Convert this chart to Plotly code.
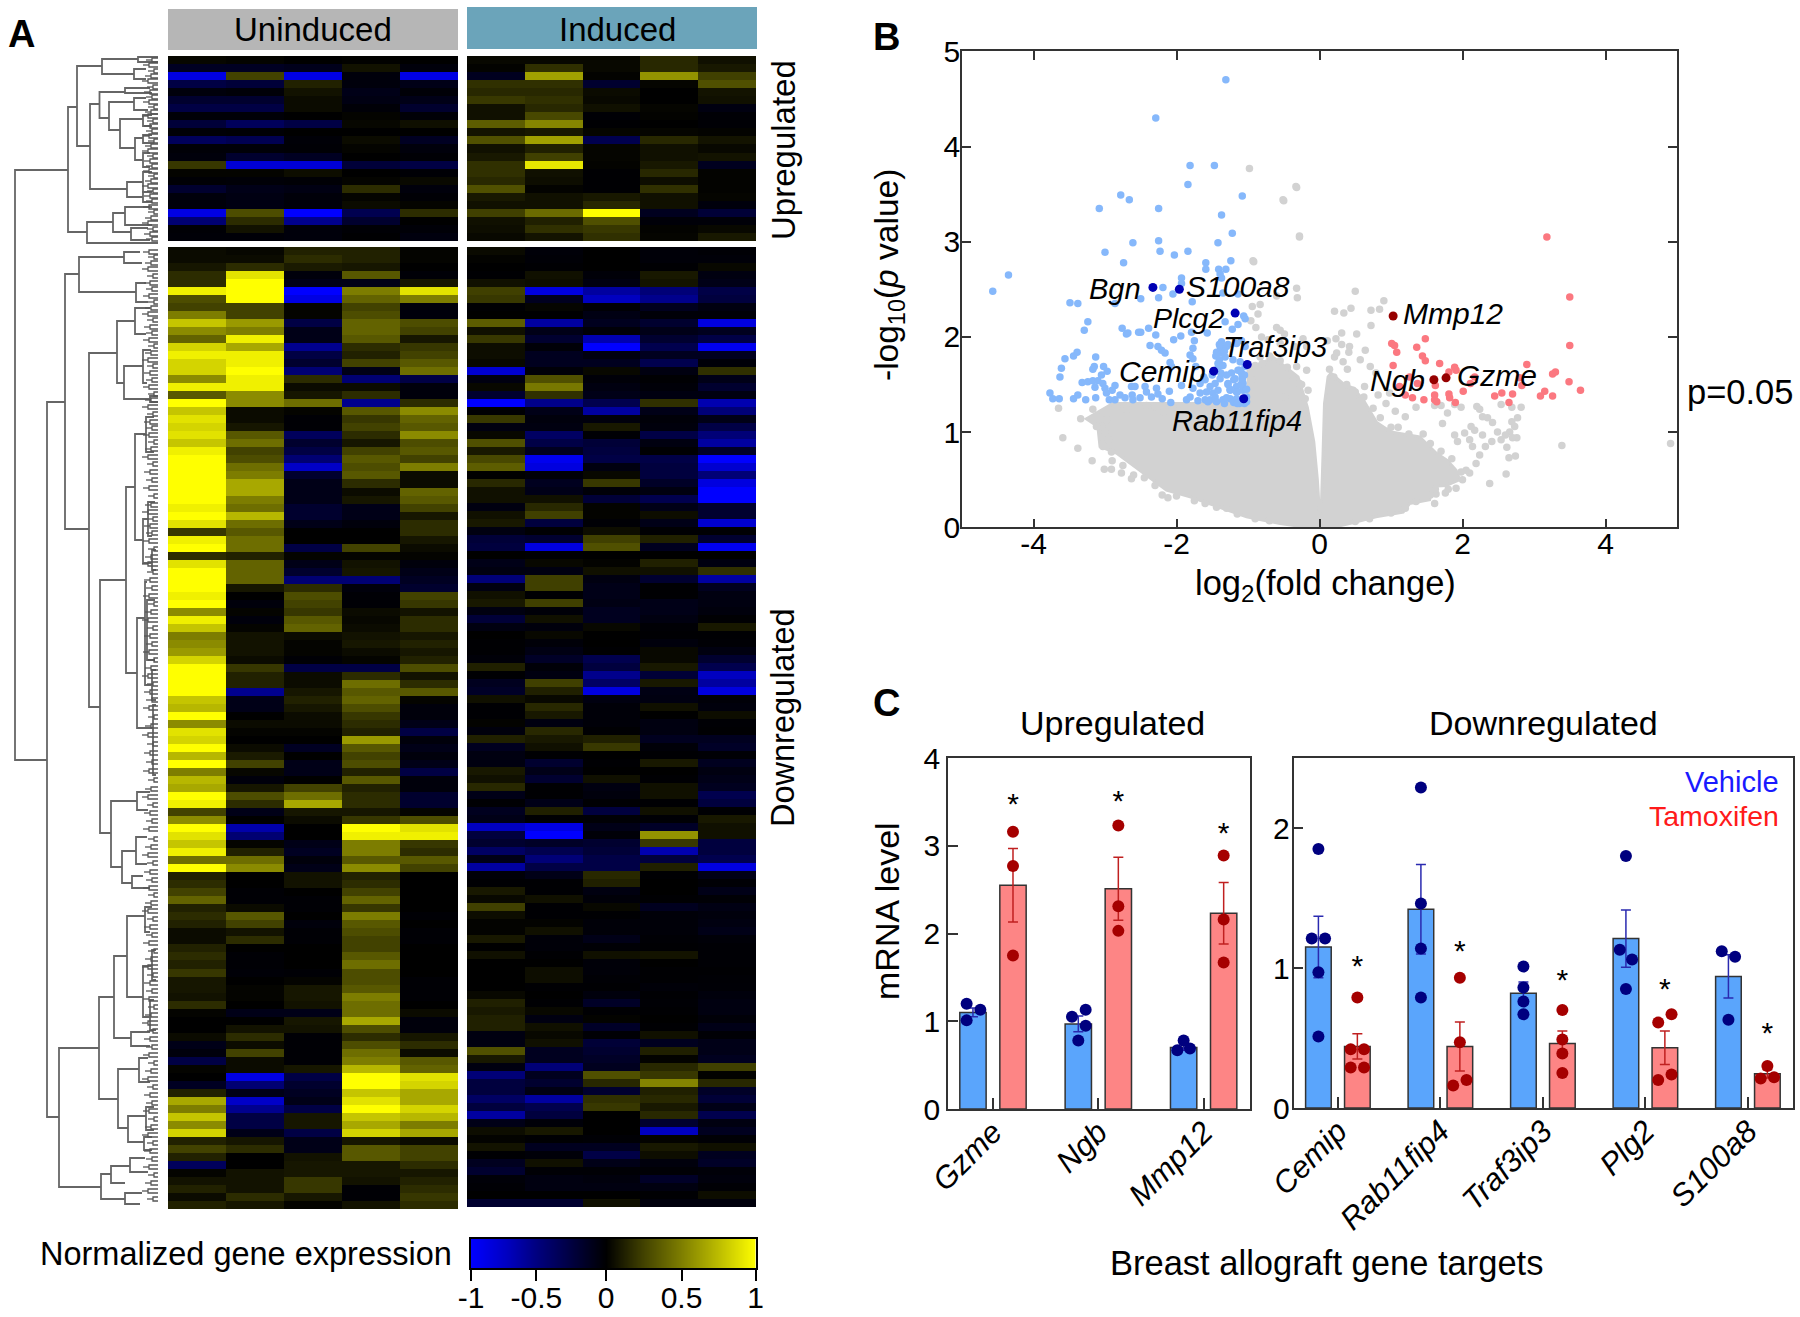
import plotly.graph_objects as go

W = 1800
H = 1317
FONT = "Liberation Sans"

# ---- Panel A: heatmaps (rows top to bottom, five samples each) ----
up_uninduced = [
    [.03,.02,0,.01,0],[-.15,-.15,-.12,.08,-.05],[-.9,.3,-.9,-.05,-.9],[-.3,-.25,.15,-.05,-.1],
    [-.05,-.03,.08,-.1,-.03],[-.2,-.2,.05,-.08,-.1],[-.3,-.3,.05,-.03,-.2],[-.03,-.03,0,.02,-.03],
    [-.25,-.4,-.3,.03,.07],[-.03,-.02,0,0,0],[-.4,-.35,-.03,.05,-.15],[-.03,-.03,-.02,.02,-.05],
    [-.05,-.2,-.15,0,-.02],[.25,-.85,-.85,-.25,-.3],[.02,.02,.06,0,-.02],[-.02,-.03,-.02,.02,.04],
    [-.2,-.1,-.08,.2,-.05],[-.05,-.08,-.04,.02,-.02],[-.05,-.08,-.04,.05,.02],[-.9,.35,-1,-.35,.2],
    [-.5,.2,-.6,-.2,0],[-.02,.08,-.05,-.02,-.03],[-.03,-.03,-.05,-.01,-.06],
]
up_induced = [
    [.05,.05,.05,.25,.1],[.02,.3,.05,.25,.15],[-.2,.8,.02,.75,.4],[.3,.3,-.3,.03,.5],
    [.25,.25,.07,0,.12],[.35,.3,.05,0,.1],[.1,.25,.1,.03,-.1],[.1,.45,-.03,.02,-.03],
    [.55,.7,-.02,0,-.03],[.12,.15,.03,.03,.02],[.5,.8,-.5,.25,.12],[.1,.2,.03,.1,.05],
    [.15,.4,.03,.1,.12],[.3,.95,.02,.15,-.2],[.3,.1,-.02,.25,.02],[.25,.08,-.02,.08,.02],
    [.5,.02,-.02,.3,.02],[.15,.1,.15,.1,.03],[.1,.1,.25,.1,-.08],[.4,.6,1,-.2,-.35],
    [.1,.2,.5,-.05,-.05],[.08,.3,.35,.02,.05],[.05,.12,.3,.03,.15],
]
down_uninduced = [
    [.05,.03,.15,.15,.02],[.05,.05,.2,.15,.02],[.1,.2,.12,.1,0],[.2,.9,-.05,.4,-.03],[.2,1,-.1,-.1,.1],
    [.95,1,-1,.55,.9],[.35,1,-.9,.45,.55],[.3,.3,.02,.3,-.05],[.55,.3,.02,.35,-.05],[.8,.65,-.3,.45,.35],
    [.6,.55,-.1,.45,.3],[.45,.95,-.1,.4,.1],[.85,.7,-.6,.2,.25],[.95,.95,-.3,.15,.3],[.85,.95,-.2,.3,.4],
    [.85,1,-.5,-.1,.5],[.6,.95,.2,-.5,-.3],[.95,.95,.05,.05,-.05],[.4,.6,.1,.2,-.05],[1,.6,.5,-.6,.2],
    [.8,.05,.02,.4,.6],[.9,.05,-.02,.25,.45],[.85,.1,-.02,.3,.4],[.9,.4,-.4,.2,.6],[.8,.5,-.2,.1,.35],
    [.95,.3,-.3,.3,.4],[1,.35,-.5,.4,.3],[1,.5,-.8,.35,.55],[1,.55,-.2,.4,.05],[1,.7,-.1,.2,.05],
    [1,.7,-.1,.05,.45],[1,.55,-.1,.1,.4],[.95,.5,-.2,-.1,.3],[1,.75,-.2,-.1,.1],[.9,.5,-.1,-.05,.2],
    [.25,.4,0,0,.2],[.95,.5,0,0,.1],[1,.5,-.3,.3,.05],[.2,.15,.02,.02,.02],[.9,.45,-.1,.08,-.05],
    [1,.45,-.2,.1,-.1],[1,.45,-.5,-.5,-.15],[1,.1,.2,-.05,-.2],[.95,0,.35,-.02,.3],[1,-.05,.3,-.02,.25],
    [.6,.02,.25,.05,.08],[.95,-.05,.4,.03,.2],[.8,.02,.45,.05,.2],[.55,.08,.05,.08,.1],[.6,.08,.02,.1,.15],
    [.65,.08,.02,.05,.1],[.85,.05,-.02,.02,.15],[1,.25,-.3,-.3,.35],[1,.15,.05,.2,.08],[1,.15,.05,.5,.2],
    [1,-.6,.1,.4,.4],[.8,-.1,.15,.45,.02],[.75,-.1,.1,.35,-.05],[1,0,.05,.25,-.05],[.6,.05,.05,.2,-.1],
    [.9,.02,.02,.15,-.3],[.85,0,0,.65,-.05],[1,.05,-.15,.4,-.1],[.75,.12,0,.3,-.05],[1,.3,-.1,.35,-.1],
    [.55,.03,-.1,.15,-.3],[.75,-.05,0,.4,-.05],[.7,.1,.3,.15,-.05],[1,.35,.5,.2,-.2],[.95,.2,.7,.2,-.2],
    [.3,-.1,.1,.1,.02],[.6,0,.05,.25,.35],[1,-.7,0,1,.9],[.9,-.5,0,.95,.95],[.8,.02,-.1,.55,.25],
    [.95,.15,-.15,.55,.2],[.5,.5,-.05,.4,.4],[1,.6,-.1,.6,.3],[.15,0,.08,.15,0],[.2,0,.08,.2,0],
    [.3,-.02,0,.3,0],[.45,-.02,-.02,.45,0],[.15,.05,-.02,.25,0],[.2,.4,0,.55,-.02],[.15,.3,-.05,.4,0],
    [.05,.08,-.02,.35,-.02],[.05,.2,-.02,.3,-.02],[.15,0,0,.3,0],[.2,-.02,0,.4,0],[.15,-.02,0,.5,0],
    [.25,-.03,-.02,.35,0],[.1,0,.02,.35,-.02],[.1,.02,.1,.4,-.02],[.08,.02,.1,.55,-.02],[.2,0,.08,.5,0],
    [.02,-.1,-.1,.5,.05],[0,0,.1,.7,-.05],[0,.08,.08,.35,-.05],[.05,.2,-.02,.2,.1],[-.1,.05,-.02,.35,.2],
    [-.05,.3,-.02,.5,.05],[-.3,.05,-.02,.55,.4],[.02,.05,.1,.75,.45],[0,-.9,-.3,1,.9],[-.15,-.5,-.2,1,.85],
    [.15,-.1,-.15,.8,.7],[.7,-.8,-.1,.9,.7],[.55,-.6,-.3,1,.85],[.8,-.3,.1,.8,.75],[.6,-.3,.1,.7,.55],
    [.85,-.1,-.3,.85,.7],[.15,.1,-.1,.1,.05],[.3,.2,-.1,.4,.3],[.15,0,.08,.4,.3],[-.4,0,.1,.1,.2],
    [.02,.08,.1,.1,.1],[.08,.08,.25,.08,.15],[.15,.08,.25,-.02,.2],[.05,.2,.1,-.02,.25],[.15,.1,.02,.08,.2],
]
down_induced = [
    [.06,-.05,0,-.05,-.03],[.02,-.04,0,-.05,-.05],[0,-.02,0,-.02,.05],[-.02,.1,-.05,.15,-.1],[.1,.08,-.1,.12,-.15],
    [.4,-.9,-.7,-.6,-.45],[.35,-.2,-.8,-.65,-.4],[-.02,.03,-.03,-.2,-.1],[0,0,-.12,-.05,-.05],[.55,-.7,-.2,-.3,-.9],
    [.1,-.15,-.05,-.15,-.2],[.35,-.3,-.75,-.3,-.45],[.08,-.05,-1,-.5,-.95],[.08,-.2,-.1,-.2,-.2],[.05,-.2,-.2,-.5,-.05],
    [-.85,-.05,.05,-.1,.3],[-.1,.5,-.05,-.02,-.15],[.05,.65,-.1,-.05,-.3],[-.3,.3,-.15,-.1,-.1],[-1,-.65,-.5,.3,-.75],
    [-.02,-.15,-.7,-.15,-.6],[.35,-.08,-.08,-.05,-.15],[-.1,-.1,.15,-.08,-.45],[.05,-.55,-.03,-.45,-.6],[.5,-.45,-.35,-.1,-.7],
    [.15,-.2,-.4,-.02,-.25],[.45,-.95,-.45,-.45,-1],[.55,-.9,-.1,-.4,-.85],[0,-.05,.05,-.4,-.6],[.25,-.2,.35,-.25,-.9],
    [.1,-.15,-.05,-.1,-1],[.1,.1,-.35,-.5,-1],[-.1,.25,.02,-.15,-.3],[.1,.4,.02,.08,-.3],[.15,-.4,-.03,-.15,-.85],
    [-.1,-.02,.08,-.02,-.02],[-.35,-.3,.4,.2,-.3],[-.4,-.9,.5,-.2,-.95],[0,-.02,0,0,0],[-.15,.05,.02,.2,-.1],
    [-.1,-.1,.1,.1,.3],[-.6,.4,-.1,-.3,-.7],[-.1,.4,-.15,-.02,-.2],[.1,-.02,-.15,-.02,-.1],[.15,.4,-.12,-.15,-.1],
    [-.1,-.05,-.2,-.15,-.08],[-.35,.1,-.2,-.1,-.02],[-.1,-.08,.05,-.03,.15],[0,.05,0,-.02,-.02],[-.02,-.05,0,-.08,-.03],
    [-.02,-.12,-.02,.05,-.1],[-.05,-.25,-.5,.05,-.3],[.2,-.05,-.4,.15,-.5],[-.02,-.1,-.65,-.35,-.8],[-.2,.4,-.55,.15,-.7],
    [-.25,.2,-.9,-.12,-.9],[.1,.05,-.1,-.1,-.05],[-.02,.25,-.05,.1,-.08],[-.02,.15,-.05,0,.08],[.02,-.1,-.05,-.1,-.03],
    [-.08,.25,-.02,-.1,-.02],[.2,.15,.2,-.2,-.2],[-.2,.1,.35,-.05,-.25],[-.1,-.02,0,-.02,-.03],[-.1,-.3,-.02,.15,-.2],
    [.15,-.15,0,0,-.1],[.1,-.3,.1,-.02,-.15],[.25,-.02,-.1,.1,-.2],[-.15,-.02,-.08,.1,-.5],[-.02,-.15,-.02,-.02,-.4],
    [-.2,.2,-.4,.1,-.02],[-.15,-.02,-.03,-.03,.15],[-.8,-.9,-.15,-.25,.1],[-.4,-1,-.05,.75,.1],[-.3,-.25,-.3,.35,-.4],
    [-.55,-.5,-.35,-.75,-.4],[-.15,-.6,-.45,-.4,-.5],[-.7,-.45,-.45,.2,-.9],[-.05,-.15,.25,-.02,-.15],[-.02,-.02,.2,0,-.03],
    [.15,-.02,-.1,0,-.15],[.05,.1,-.05,-.02,-.03],[.4,-.02,.05,-.2,-.12],[.08,-.02,-.02,-.05,-.08],[.02,.02,-.05,-.05,-.1],
    [.02,.1,-.05,-.05,-.15],[.15,-.05,-.15,-.03,-.05],[0,-.05,-.03,-.02,-.03],[.1,-.02,.1,.12,-.03],[0,0,-.05,0,-.03],
    [0,.08,-.05,-.02,-.02],[0,.08,-.03,-.02,-.03],[0,-.02,-.02,-.05,-.04],[.05,0,-.08,-.02,-.08],[.2,-.02,-.25,-.03,-.1],
    [.15,.05,-.02,-.02,-.1],[.2,-.1,.02,0,-.05],[.2,.1,-.25,-.02,-.15],[-.1,.05,-.03,.1,-.03],[-.1,.1,-.35,-.2,-.15],
    [.5,-.2,-.3,.2,-.15],[.15,-.2,-.25,.02,-.2],[-.1,-.6,-.2,.25,.4],[-.6,-.2,.5,.35,.02],[-.4,-.3,.25,.7,.25],
    [-.4,-.12,-.3,.2,-.25],[-.55,-.7,.3,.25,-.35],[-.4,-.5,.35,.15,-.15],[-.7,-.4,0,.25,-.5],[-.15,-.05,0,-.3,-.1],
    [.08,.15,0,-.8,-.2],[.02,-.02,-.03,.02,-.03],[.12,-.2,-.2,.15,.1],[-.02,-.05,-.45,.08,-.2],[-.2,.1,-.15,-.08,-.25],
    [-.3,-.03,-.03,-.03,-.05],[-.05,-.1,-.08,-.25,-.08],[-.03,-.1,-.1,-.1,-.03],[0,0,0,-.02,.08],[-.3,-.3,.1,-.08,-.08],
]
heat_scale = [[0, "#0000ff"], [.5, "#000000"], [1, "#ffff00"]]
# the panels themselves read darker in the mid range than the colour bar
uninduced_scale = [[0, "#0000ff"], [.25, "#000072"], [.5, "#000000"], [.75, "#6e6e00"], [1, "#ffff00"]]
induced_scale = [[0, "#0000ff"], [.15, "#0000a0"], [.25, "#00004e"], [.5, "#000000"], [.75, "#505000"], [.9, "#a0a000"], [1, "#ffff00"]]

cbar_x = [-1, -.75, -.54, -.3, -.05, .2, .48, .75, 1]
cbar_z = [-1, -.75, -.5, -.25, 0, .25, .5, .75, 1]
cbar_ticks = [-1, -.54, -.05, .48, 1]
cbar_labels = ["-1", "-0.5", "0", "0.5", "1"]

# dendrogram links: spine, top row, bottom row, top child, bottom child
tree_links = [
    (15,170,760,68,47),(68,107,232,77,87),(77,66,146,102,90),(102,59,74,138,134),(138,57,62,158,158),
    (134,69,79,146,146),(90,104,189,99.5,127),(99.5,92,118,125,109),(125,88,93,150,152),(109,102,130,134,120),
    (134,98,110,146,148),(120,119,148,143,135),(143,115,126,152,152),(135,138,160,143,143),(143,135,143,152,154),
    (143,153,167,150,150),(127,182,197,143,143),(143,172,192,152,152),(143,192,202,150,152),(87,222,243,113,158),
    (113,213,232,125,131),(125,207,225,152,152),(131,228,240,148,150),
    (47,402,1117,65,59),(65,274,529,79,89),(79,257,292,124,136),(124,252,263,140,142),(136,283,302,146,148),
    (89,353,707,117,100),(117,321,383,135,124),(135,308,334,150,146),(124,366,399,143,150),(143,350,383,151,147),
    (150,396,402,158,158),(100,580,833,126,111),(126,487,673,135,137),(135,434,540,146,143),(146,417,452,154,154),
    (143,519,563,148,152),(148,502,536,155,152),(152,550,570,156,156),(137,618,728,145,153),(145,582,685,147,152),
    (147,600,660,155,155),(152,670,700,156,156),(153,705,775,156,156),(111,801,867,137,122),(137,792,810,150,148),
    (122,851,883,136,132),(136,837,864,147,147),(132,876,888,143,150),(59,1048,1187,99,101),(99,997,1099,114,118),
    (114,956,1038,127,131),(127,916,997,145,143),(145,907,932,152,150),(143,966,1017,152,150),(152,950,980,156,156),
    (150,1000,1030,154,156),(131,1032,1046,150,150),(118,1069,1128,139,128),(139,1058,1082,148,150),(128,1116,1142,146,144),
    (146,1107,1130,154,154),(144,1137,1150,152,152),(101,1174,1199,111,125),(111,1166,1183,130,125),(130,1158,1172,145,148),
    (125,1193,1204,142,140),
]
twig_x = [152, 149, 154, 151, 148, 153, 150]
twig_y = [
    58,63,69,74,79,85,90,95,100,105,110,114,119,124,129,134,139,144,149,154,159,164,169,174,179,184,189,194,199,
    205,210,216,221,227,232,237,
    250,255,261,267,274,281,287,294,300,306,312,318,325,331,338,344,351,358,364,371,378,385,392,398,
    405,412,420,426,433,440,447,455,462,470,478,486,494,503,510,517,524,531,539,547,555,562,570,578,
    586,594,602,610,618,626,634,642,650,658,666,674,682,690,698,706,715,724,733,742,751,760,769,778,
    787,795,803,811,819,827,837,845,853,861,870,878,886,
    893,901,909,917,925,933,941,949,957,965,973,981,989,997,1005,1013,1021,1029,1037,1045,
    1053,1061,1069,1077,1085,1093,1101,1109,1117,1125,1133,1141,1149,1157,1165,1173,1181,1189,1197,
]

# ---- Panel B: volcano plot ----
cloud_x = [-.18,-.55,-1.02,-1.44,-1.81,-2.14,-2.51,-2.84,-3.07,-3.1,-3.26,-2.89,-1,-1,-.93,-.64,-.3,-.17,-.08,-.03,0,
           .03,.05,.07,.12,.16,.33,.47,.61,.8,1,1.4,1.63,1.79,1.91,1.96,1.77,1.58,1.54,1.26,1.17,.79,.42,.19]
cloud_y = [0,.04,.11,.22,.32,.39,.6,.78,.85,1.06,1.14,1.3,1.3,1.68,1.69,1.78,1.58,1.26,.9,.5,.14,
           .3,.78,1.3,1.58,1.62,1.51,1.46,1.34,1.1,1,.95,.78,.7,.6,.5,.44,.43,.29,.25,.16,.11,.04,0]
gray_x = [-.98,-.32,-.5,-.28,-.92,-3.65,-3.59,-3.34,-3.17,-3.38,-3.18,-3.01,-2.91,-2.77,-2.63,-2.2,-2.12,-1.44,-3.05,-3.03,
          -2.91,-3.12,-2.98,-2.84,-2.61,-2.42,-2.19,-2.05,-.93,-.33,-.51,-.28,-.32,-.31,-.6,-.94,-.83,-.86,-.96,-.89,
          -.6,-.55,-.49,-.23,-.18,-.35,-.32,-.18,-.16,-.55,-.72,-.81,-.69,-.83,-.37,-.28,-.49,
          .5,.9,.21,.34,.44,.72,.84,.72,.31,.52,.11,.31,.23,.42,.64,.24,.21,.33,.41,.57,.71,.39,.79,.47,.63,.82,.98,.57,.93,
          1.06,1.2,1.35,1.61,1.7,1.79,1.89,1.98,1.72,2.2,2.24,2.28,2.35,2.42,2.54,2.69,2.82,2.77,2.69,2.73,2.49,2.66,2.6,
          2.76,2.7,2.54,2.41,2.28,2.32,2.62,2.74,2.65,3.39,4.91,2.61,2.38,2.24,2.14,2.03,1.89,1.93,2.1,2.12,2.17,1.61,1.63,
          1.76,1.91,2.1,2.05,2.19,
          -2.9,-2.75,-2.6,-2.45,-2.3,-2,-1.75,-1.6,-1.3,-1.15,-.9,-.7,-3,-2.95,-2.85,-2.7,-2.55,-2.3,-2.15,-1.9,-1.7,-1.5,-1.25,
          -.95,-.9,-.8,-.7,-.55,-.45,-.25,-.2,
          .14,.2,.38,.5,.62,.75,.85,1,1.1,1.25,1.45,1.55,1.7,1.85,1.98,2,1.8,1.62,1.55,1.35,1.2,1,.7,.5]
gray_y = [3.77,3.57,3.43,3.05,2.79,1.25,.94,1.14,1.24,.83,.7,.61,.61,.57,.51,.34,.31,.21,1.06,.85,
          .79,1.06,1.13,1.27,1.3,1.28,1.21,1.27,2.8,3.58,3.44,3.06,2.51,2.41,2.43,2.32,2.34,2.24,2.17,2.1,
          2.1,2.07,2.03,1.98,1.9,1.9,1.69,1.65,1.44,1.93,1.97,2,1.79,1.79,1.55,1.51,1.37,
          2.48,2.38,2.27,2.25,2.3,2.28,2.29,2.12,2.04,2.03,1.96,1.92,1.98,1.9,1.86,1.83,1.79,1.74,1.84,1.76,1.69,1.66,1.62,1.44,1.48,1.39,1.41,1.33,1.3,
          1.22,1.16,1.26,1.28,1.28,1.2,1.29,1.26,1.09,1.27,1.24,1.16,1.15,1.1,1.29,1.26,1.26,1.15,1.11,1.06,1,1,.97,
          .94,.94,.92,.9,.97,.85,.84,.75,.73,.86,.88,.56,.46,.76,.85,.99,.97,.9,.92,1.06,1.02,.25,.35,
          .36,.41,.57,.6,.67,
          .7,.65,.55,.52,.44,.33,.28,.25,.2,.14,.09,.07,1,.92,1.2,1.24,1.25,1.27,1.27,1.27,1.27,1.28,1.29,
          1.55,1.7,1.72,1.8,1.75,1.68,1.5,1.35,
          1.66,1.58,1.5,1.42,1.37,1.25,1.15,1.05,1.05,.98,.98,.88,.8,.72,.58,.5,.4,.4,.34,.27,.2,.15,.09,.06]
sig_down_x = [-1.31,-2.29,-1.81,-1.47,-1.84,-2.78,-2.66,-1.08,-3.08,-2.25,-1.37,-1.22,-2.61,-2.25,-1.42,-3,-2.23,-2.03,-1.84,
              -4.35,-4.57,-2.74,-1.59,-1.59,-1.41,-1.31,-1.24,-1.39,-1.37,-1.93,-1.93,-2.19,-3.49,-3.38,-2.5,-2.25,-2.05,-2.86,-1.78,-1.35,-1.14,
              -3.24,-3.29,-2.76,-2.7,-2.68,-2.53,-2.5,-2.29,-2.39,-2.04,-1.94,-1.79,-1.57,-1.32,-1.06,-1.04,-1.22,-1.14,-1.75,-1.77,-2.37,-2.26,-2.21,-2.16,
              -1.81,-1.77,-2.09,-2.07,-1.73,-3.39,-3.44,-3.56,-3.61,-3.63,-3.13,-3.15,-3.17,-3.02,-2.97,-3.05,-3.32,-3.24,-3.17,-3.1,-3.03,-3.14,-3,-2.86,-2.9,
              -3.77,-3.73,-3.64,-3.44,-3.38,-3.27,-3.13,-2.98,-2.94,-2.86,-2.79,-2.72,-2.63,-2.58,-2.62,-2.61,-2.51,-2.44,-2.42,-2.35,-2.28,-2.26,-2.2,-2.1,-1.93,-2.08,-1.86,-1.81,
              -1.39,-1.44,-1.37,-1.3,-1.37,-1.32,-1.42,-1.42,-1.21,-1.11,-1.04,-1.09,-1.16,
              -1.67,-1.6,-1.53,-1.46,-1.39,-1.58,-1.49,-1.42,-1.67,-1.77,-1.6,-1.53,-1.46,-1.35,-1.25,-1.16,-1.25,-1.16,-1.07,-1.28,-1.18,-1.09,-1.04,-1.14,-1.23,-1.07,-1.16,-1.02,
              -1.02,-1.05,-1.08,-1.12,-1.2,-1.28,-1.33,-1.38,-1.44,-1.5,-1.56,-1.62,-1.7,
              -1.35,-1.4,-1.45,-1.33,-1.28,-1.4,-1.35,-1.3,-1.05,-1.1,-1.15,-1.2,-1.25,-1.3,-1.05,-1.1,-1.15,-1.02,-1.08,-1.12]
sig_down_y = [4.7,4.3,3.8,3.8,3.6,3.49,3.44,3.48,3.35,3.35,3.28,3.09,2.99,3.01,2.99,2.89,2.9,2.86,2.9,
              2.65,2.48,2.78,2.78,2.71,2.71,2.71,2.8,2.66,2.62,2.62,2.56,2.52,2.36,2.35,2.4,2.41,2.45,2.35,2.37,2.46,2.45,
              2.16,2.07,2.09,2.03,2.04,2.05,2.05,2.02,2.09,1.97,2.01,2.05,2.04,2.16,2.22,2.19,2.08,2.13,1.96,1.88,1.91,1.9,1.86,1.83,
              1.81,1.77,1.73,1.69,1.69,1.84,1.8,1.77,1.67,1.58,1.79,1.69,1.66,1.69,1.64,1.6,1.52,1.53,1.54,1.54,1.51,1.47,1.46,1.49,1.44,
              1.41,1.35,1.35,1.35,1.39,1.34,1.36,1.41,1.34,1.34,1.39,1.36,1.48,1.48,1.39,1.34,1.36,1.48,1.42,1.37,1.46,1.4,1.35,1.43,1.49,1.31,1.34,1.37,
              1.9,1.84,1.83,1.9,1.95,1.79,1.72,1.67,1.76,1.74,1.9,1.96,1.93,
              1.51,1.55,1.48,1.51,1.56,1.42,1.41,1.44,1.41,1.46,1.34,1.34,1.37,1.34,1.35,1.35,1.44,1.48,1.44,1.51,1.56,1.62,1.69,1.65,1.62,1.51,1.42,1.37,
              1.32,1.45,1.58,1.3,1.31,1.5,1.3,1.62,1.32,1.6,1.32,1.58,1.33,
              1.88,1.92,1.8,1.85,1.92,1.76,1.7,1.6,1.6,1.5,1.42,1.55,1.45,1.36,1.3,1.32,1.3,1.45,1.55,1.65]
sig_up_x = [3.18,3.5,3.5,1.01,1.05,1.08,1.36,1.48,1.44,1.48,1.68,1.03,1.81,1.89,1.91,2.9,3.26,3.3,3.49,3.65,3.15,3.09,3.26,2.55,2.7,
            2.45,2.65,2.83,2.8,2.01,2.11,2.17,1.62,1.61,1.61,1.64,1.81,1.82,1.9,1.46,1.3,1.2,1.37,1.26,1.12]
sig_up_y = [3.05,2.42,1.91,1.93,1.91,1.84,1.89,1.98,1.8,1.75,1.72,1.7,1.63,1.68,1.65,1.71,1.61,1.63,1.53,1.44,1.43,1.38,1.38,1.41,1.4,
            1.38,1.31,1.49,1.57,1.43,1.51,1.58,1.49,1.39,1.34,1.32,1.4,1.36,1.31,1.34,1.36,1.39,1.51,1.58,1.48]
hit_down_x = [-2.33, -1.96, -1.18, -1.48, -1.01, -1.06]
hit_down_y = [2.52, 2.5, 2.25, 1.64, 1.71, 1.35]
hit_up_x = [1.03, 1.6, 1.77]
hit_up_y = [2.22, 1.55, 1.57]

# ---- Panel C: qPCR bars ----
up_genes = ["Gzme", "Ngb", "Mmp12"]
up_veh = [1.1, .97, .7]
up_veh_err = [.05, .09, .03]
up_tam = [2.55, 2.51, 2.23]
up_tam_err = [.42, .36, .35]
up_veh_pts = [[1.2, 1.13, 1.01], [1.05, 1.13, .95, .78], [.78, .67, .69]]
up_veh_jit = [[-.06, .07, -.06], [-.06, .07, .07, 0], [0, -.06, .06]]
up_tam_pts = [[3.16, 2.77, 1.75], [3.23, 2.31, 2.03], [2.89, 2.16, 1.67]]
up_star = [3.45, 3.48, 3.12]

down_genes = ["Cemip", "Rab11fip4", "Traf3ip3", "Plg2", "S100a8"]
down_veh = [1.15, 1.42, .82, 1.21, .94]
down_veh_err = [.22, .32, .08, .205, .155]
down_tam = [.44, .44, .46, .43, .245]
down_tam_err = [.09, .175, .09, .12, .03]
down_veh_pts = [[1.85, 1.21, 1.21, .97, .51], [2.29, 1.46, 1.14, .79], [1.01, .86, .76, .67], [1.8, 1.13, 1.06, .85], [1.12, 1.08, .63]]
down_veh_jit = [[0, -.065, .065, 0, 0], [0, 0, 0, 0], [0, 0, 0, 0], [0, -.06, .06, 0], [-.065, .065, 0]]
down_tam_pts = [[.79, .42, .42, .29, .29], [.93, .47, .2, .16], [.7, .49, .39, .25], [.67, .61, .24, .2], [.3, .21, .22]]
down_tam_jit = [[0, -.065, .065, -.065, .065], [0, 0, .065, -.065], [0, 0, 0, 0], [.065, -.065, .065, -.065], [0, -.065, .065]]
down_star = [.995, 1.105, .895, .835, .515]

bar_shift = .19
bar_width = .25
BLUE_BAR = "#5aa5fc"
RED_BAR = "#fd8585"
NAVY = "#00007f"
DARK_RED = "#a50000"


def dom_x(a, b):
    return [a / W, b / W]


def dom_y(top, bottom):
    return [1 - bottom / H, 1 - top / H]


def label(text, x, y, size, angle=0, color="black", anchor="center"):
    return dict(text=text, x=x / W, y=1 - y / H, xref="paper", yref="paper", showarrow=False,
                xanchor=anchor, yanchor="middle", textangle=angle,
                font=dict(family=FONT, size=size, color=color))


fig = go.Figure()

# heatmaps
for z, scale, xa, ya in [(up_uninduced, uninduced_scale, "x", "y"), (up_induced, induced_scale, "x2", "y2"),
                         (down_uninduced, uninduced_scale, "x3", "y3"), (down_induced, induced_scale, "x4", "y4")]:
    fig.add_trace(go.Heatmap(z=z, colorscale=scale, zmin=-1, zmax=1, showscale=False,
                             xaxis=xa, yaxis=ya, hoverinfo="skip"))

# dendrogram
tree_xs, tree_ys = [], []
for spine, top, bot, child_top, child_bot in tree_links:
    tree_xs += [child_top, spine, spine, child_bot, None]
    tree_ys += [top, top, bot, bot, None]
fig.add_trace(go.Scatter(x=tree_xs, y=tree_ys, mode="lines", line=dict(color="#666666", width=1.8),
                         xaxis="x5", yaxis="y5", hoverinfo="skip", showlegend=False))
twig_xs, twig_ys = [], []
for i, yy in enumerate(twig_y):
    xx = twig_x[i % len(twig_x)]
    twig_xs += [158, xx, xx, 158, None, xx - 6, xx, None]
    twig_ys += [yy, yy, yy + 4, yy + 4, None, yy + 2, yy + 2, None]
fig.add_trace(go.Scatter(x=twig_xs, y=twig_ys, mode="lines", line=dict(color="#555555", width=1.3),
                         xaxis="x5", yaxis="y5", hoverinfo="skip", showlegend=False))

# colour bar
fig.add_trace(go.Heatmap(x=cbar_x, y=[0, 1], z=[cbar_z, cbar_z], colorscale=heat_scale, zmin=-1, zmax=1,
                         showscale=False, zsmooth="best", xaxis="x6", yaxis="y6", hoverinfo="skip"))

# volcano
fig.add_trace(go.Scatter(x=cloud_x, y=cloud_y, mode="lines", fill="toself", fillcolor="#d2d2d2",
                         line=dict(color="#d2d2d2", width=3), xaxis="x7", yaxis="y7", hoverinfo="skip", showlegend=False))
for xs, ys, col, sz in [(gray_x, gray_y, "#d2d2d2", 7.5), (sig_down_x, sig_down_y, "#86b8fb", 7.5),
                        (sig_up_x, sig_up_y, "#fb7880", 7.5), (hit_down_x, hit_down_y, "#0000b4", 9),
                        (hit_up_x, hit_up_y, "#960000", 9)]:
    fig.add_trace(go.Scatter(x=xs, y=ys, mode="markers", marker=dict(color=col, size=sz),
                             xaxis="x7", yaxis="y7", hoverinfo="skip", showlegend=False))

# bars and dots
for genes, veh, veh_err, tam, tam_err, xa, ya in [
        (up_genes, up_veh, up_veh_err, up_tam, up_tam_err, "x8", "y8"),
        (down_genes, down_veh, down_veh_err, down_tam, down_tam_err, "x9", "y9")]:
    pos = list(range(len(genes)))
    fig.add_trace(go.Bar(x=[p - bar_shift for p in pos], y=veh, width=bar_width, marker=dict(color=BLUE_BAR, line=dict(color="#333333", width=1.5)),
                         error_y=dict(type="data", array=veh_err, color="#2a2ab0", thickness=1.5, width=5),
                         xaxis=xa, yaxis=ya, showlegend=False, hoverinfo="skip"))
    fig.add_trace(go.Bar(x=[p + bar_shift for p in pos], y=tam, width=bar_width, marker=dict(color=RED_BAR, line=dict(color="#333333", width=1.5)),
                         error_y=dict(type="data", array=tam_err, color="#c02020", thickness=1.5, width=5),
                         xaxis=xa, yaxis=ya, showlegend=False, hoverinfo="skip"))

for pts, jit, shift, col, xa, ya in [
        (up_veh_pts, up_veh_jit, -bar_shift, NAVY, "x8", "y8"),
        (up_tam_pts, None, bar_shift, DARK_RED, "x8", "y8"),
        (down_veh_pts, down_veh_jit, -bar_shift, NAVY, "x9", "y9"),
        (down_tam_pts, down_tam_jit, bar_shift, DARK_RED, "x9", "y9")]:
    xs, ys = [], []
    for g, vals in enumerate(pts):
        for k, v in enumerate(vals):
            xs.append(g + shift + (jit[g][k] if jit else 0))
            ys.append(v)
    fig.add_trace(go.Scatter(x=xs, y=ys, mode="markers", marker=dict(color=col, size=12),
                             xaxis=xa, yaxis=ya, showlegend=False, hoverinfo="skip"))

for stars, xa, ya in [(up_star, "x8", "y8"), (down_star, "x9", "y9")]:
    fig.add_trace(go.Scatter(x=[g + bar_shift for g in range(len(stars))], y=stars, mode="text", text=["*"] * len(stars),
                             textfont=dict(family=FONT, size=30, color="black"), textposition="middle center",
                             xaxis=xa, yaxis=ya, showlegend=False, hoverinfo="skip"))

hidden = dict(visible=False)
tick_font = dict(family=FONT, size=30, color="black")
line_style = dict(showline=True, linecolor="#333333", linewidth=1.5, showgrid=False, zeroline=False,
                  tickwidth=1.5, tickcolor="#333333")
layout = dict(
    template="none",
    width=W, height=H, margin=dict(l=0, r=0, t=0, b=0, pad=0), autosize=False,
    paper_bgcolor="white", plot_bgcolor="white", barmode="overlay", showlegend=False,
    xaxis=dict(domain=dom_x(168, 458), range=[-.5, 4.5], anchor="y", **hidden),
    yaxis=dict(domain=dom_y(56, 241), range=[22.5, -.5], anchor="x", **hidden),
    xaxis2=dict(domain=dom_x(467, 756), range=[-.5, 4.5], anchor="y2", **hidden),
    yaxis2=dict(domain=dom_y(56, 241), range=[22.5, -.5], anchor="x2", **hidden),
    xaxis3=dict(domain=dom_x(168, 458), range=[-.5, 4.5], anchor="y3", **hidden),
    yaxis3=dict(domain=dom_y(247, 1209), range=[119.5, -.5], anchor="x3", **hidden),
    xaxis4=dict(domain=dom_x(467, 756), range=[-.5, 4.5], anchor="y4", **hidden),
    yaxis4=dict(domain=dom_y(247, 1207), range=[119.5, -.5], anchor="x4", **hidden),
    xaxis5=dict(domain=dom_x(14, 158), range=[14, 158], anchor="y5", **hidden),
    yaxis5=dict(domain=dom_y(56, 1209), range=[1209, 56], anchor="x5", **hidden),
    xaxis6=dict(domain=dom_x(471, 755.5), range=[-1, 1], anchor="y6", tickvals=cbar_ticks, ticktext=cbar_labels,
                ticks="outside", ticklen=11, tickwidth=2, tickcolor="black", showline=True, linecolor="black",
                linewidth=2, mirror=True, showgrid=False, zeroline=False, ticklabelstandoff=-9,
                tickfont=dict(family=FONT, size=30, color="black")),
    yaxis6=dict(domain=dom_y(1239, 1268), range=[0, 1], anchor="x6", showticklabels=False, ticks="",
                showline=True, linecolor="black", linewidth=2, mirror=True, showgrid=False, zeroline=False),
    xaxis7=dict(domain=dom_x(962, 1677), range=[-5, 5], anchor="y7", tickvals=[-4, -2, 0, 2, 4],
                ticktext=["-4", "-2", "0", "2", "4"], ticks="inside", ticklen=9, mirror="ticks", ticklabelstandoff=-11,
                tickfont=tick_font, **line_style),
    yaxis7=dict(domain=dom_y(51.3, 527.3), range=[0, 5], anchor="x7", tickvals=[0, 1, 2, 3, 4, 5], ticks="inside",
                ticklen=9, mirror="ticks", ticklabelstandoff=-6, tickfont=tick_font, **line_style),
    xaxis8=dict(domain=dom_x(948, 1250), range=[-.427, 2.44], anchor="y8", tickvals=[0, 1, 2],
                ticktext=[f"<i>{g}</i>" for g in up_genes], tickangle=-45, ticks="inside", ticklen=11, mirror=True,
                ticklabelstandoff=-9, tickfont=dict(family=FONT, size=31, color="black"), **line_style),
    yaxis8=dict(domain=dom_y(758, 1109), range=[0, 4], anchor="x8", tickvals=[0, 1, 2, 3, 4], ticks="inside", ticklen=10,
                mirror=True, tickfont=tick_font, **line_style),
    xaxis9=dict(domain=dom_x(1293.5, 1793), range=[-.433, 4.44], anchor="y9", tickvals=[0, 1, 2, 3, 4],
                ticktext=[f"<i>{g}</i>" for g in down_genes], tickangle=-45, ticks="inside", ticklen=11, mirror=True,
                ticklabelstandoff=-9, tickfont=dict(family=FONT, size=31, color="black"), **line_style),
    yaxis9=dict(domain=dom_y(758, 1108), range=[0, 2.5], anchor="x9", tickvals=[0, 1, 2], ticks="inside", ticklen=10,
                mirror=True, ticklabelstandoff=-4, tickfont=tick_font, **line_style),
    shapes=[
        dict(type="rect", xref="paper", yref="paper", x0=168 / W, x1=458 / W, y0=1 - 50 / H, y1=1 - 9 / H,
             fillcolor="#b6b6b6", line=dict(width=0)),
        dict(type="rect", xref="paper", yref="paper", x0=467 / W, x1=757 / W, y0=1 - 49 / H, y1=1 - 7 / H,
             fillcolor="#6ba4ba", line=dict(width=0)),
    ],
    annotations=[
        label("<b>A</b>", 21, 34, 38), label("<b>B</b>", 886, 37, 38), label("<b>C</b>", 886, 703, 38),
        label("Uninduced", 313, 30, 33), label("Induced", 617, 30, 33),
        label("Upregulated", 783, 150, 33, angle=-90), label("Downregulated", 783, 718, 32.5, angle=-90),
        label("Normalized gene expression", 246, 1254, 32.5),
        label("-log<sub>10</sub>(<i>p</i> value)", 889, 275, 33.5, angle=-90),
        label("log<sub>2</sub>(fold change)", 1325, 586, 34.5),
        label("p=0.05", 1740, 392, 34.5),
        label("<i>Bgn</i>", 1115, 289, 29), label("<i>S100a8</i>", 1238, 287, 30), label("<i>Plcg2</i>", 1188, 318, 28.5),
        label("<i>Traf3ip3</i>", 1275, 347, 29), label("<i>Cemip</i>", 1162, 372, 30), label("<i>Rab11fip4</i>", 1237, 421, 29),
        label("<i>Mmp12</i>", 1453, 313, 30), label("<i>Ngb</i>", 1397, 380, 30), label("<i>Gzme</i>", 1497, 375, 30),
        label("Upregulated", 1112, 723, 34), label("Downregulated", 1543, 723, 34),
        label("mRNA level", 887, 911, 34, angle=-90),
        label("Breast allograft gene targets", 1326, 1263, 34.5),
        label("Vehicle", 1781, 782, 29, color="#1a1aff", anchor="right"),
        label("Tamoxifen", 1781, 816, 28.5, color="#ff1a1a", anchor="right"),
    ],
)
fig.update_layout(**layout)

fig.write_html("out.html", config={"displayModeBar": False},
               post_script="document.body.style.margin='0';document.body.style.overflow='hidden';")
